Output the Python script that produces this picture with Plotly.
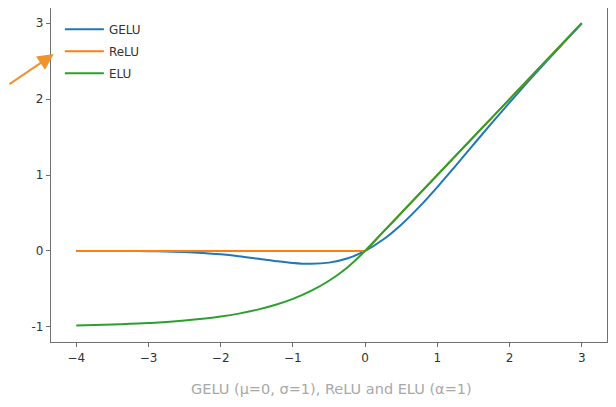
import plotly.graph_objects as go

# sample positions
x_vals = [-4.0, -3.75, -3.5, -3.25, -3.0, -2.75, -2.5, -2.25, -2.0, -1.75, -1.5, -1.25,
          -1.0, -0.75, -0.5, -0.25, 0.0, 0.25, 0.5, 0.75, 1.0, 1.25, 1.5, 1.75,
          2.0, 2.25, 2.5, 2.75, 3.0]

gelu_vals = [-0.0001, -0.0003, -0.0008, -0.0019, -0.0040, -0.0082, -0.0155, -0.0275,
             -0.0455, -0.0701, -0.1002, -0.1321, -0.1587, -0.1700, -0.1543, -0.1003,
             0.0, 0.1497, 0.3457, 0.5800, 0.8413, 1.1179, 1.3998, 1.6799,
             1.9545, 2.2225, 2.4845, 2.7418, 2.9960]

relu_x = [-4.0, 0.0, 3.0]
relu_vals = [0.0, 0.0, 3.0]

elu_vals = [-0.9817, -0.9765, -0.9698, -0.9612, -0.9502, -0.9361, -0.9179, -0.8946,
            -0.8647, -0.8262, -0.7769, -0.7135, -0.6321, -0.5276, -0.3935, -0.2212,
            0.0, 0.25, 0.5, 0.75, 1.0, 1.25, 1.5, 1.75,
            2.0, 2.25, 2.5, 2.75, 3.0]

x_ticks = [-4, -3, -2, -1, 0, 1, 2, 3]
x_tick_text = ["\u22124", "\u22123", "\u22122", "\u22121", "0", "1", "2", "3"]
y_ticks = [-1, 0, 1, 2, 3]
y_tick_text = ["-1", "0", "1", "2", "3"]

caption = "GELU (\u03bc=0, \u03c3=1), ReLU and ELU (\u03b1=1)"

fig = go.Figure()
fig.add_trace(go.Scatter(x=x_vals, y=gelu_vals, mode="lines", name="GELU", legendgroup="g",
                         line=dict(color="#1f77b4", width=2, shape="spline")))
fig.add_trace(go.Scatter(x=relu_x, y=relu_vals, mode="lines", name="ReLU", legendgroup="r",
                         line=dict(color="#ff7f0e", width=2)))
fig.add_trace(go.Scatter(x=x_vals, y=elu_vals, mode="lines", name="ELU", legendgroup="e",
                         line=dict(color="#2ca02c", width=2, shape="spline")))

axis_common = dict(showgrid=False, zeroline=False, showline=True, mirror=True,
                   linecolor="#707070", linewidth=1.3, ticks="outside", ticklen=4,
                   tickcolor="#707070", tickwidth=1,
                   tickfont=dict(family="DejaVu Sans", size=12, color="#333333"))

# page body has an 8px margin, so the figure is sized to fit the window
fig.update_layout(
    width=608, height=399,
    margin=dict(l=43, r=9, t=0, b=65),
    paper_bgcolor="white", plot_bgcolor="white",
    xaxis=dict(range=[-4.35, 3.35], tickvals=x_ticks, ticktext=x_tick_text, **axis_common),
    yaxis=dict(range=[-1.2, 3.2], tickvals=y_ticks, ticktext=y_tick_text, **axis_common),
    legend=dict(x=0.016, y=0.98, xanchor="left", yanchor="top",
                bgcolor="rgba(255,255,255,0)", borderwidth=0,
                font=dict(family="DejaVu Sans", size=12, color="#333333"),
                itemwidth=39, tracegroupgap=3),
    showlegend=True,
    annotations=[
        dict(text=caption, xref="paper", yref="paper", x=0.505, y=-0.11,
             xanchor="center", yanchor="top", showarrow=False,
             font=dict(family="DejaVu Sans", size=14.5, color="#a8a8a8")),
        dict(x=0.005, y=0.862, xref="paper", yref="paper", ax=-46, ay=31,
             axref="pixel", ayref="pixel", text="", showarrow=True,
             arrowhead=2, arrowsize=1.6, arrowwidth=2, arrowcolor="#f0922e"),
    ],
)

fig.write_html("out.html")
